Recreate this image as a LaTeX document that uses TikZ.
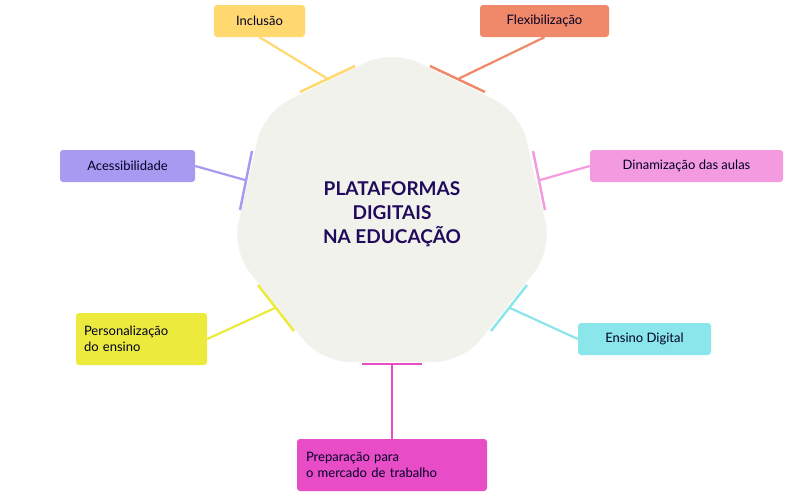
\documentclass[tikz,border=0pt]{standalone}
\usepackage{fontspec}
\setmainfont{Lato}
\begin{document}
\begin{tikzpicture}[x=1pt,y=-1pt,
  box/.style={rounded corners=3pt,inner sep=0pt,font=\fontsize{13}{16}\selectfont,text=black!85!blue},
  mk/.style={line width=2.5pt},
  cn/.style={line width=2.2pt}]
\useasboundingbox (0,0) rectangle (786,491);
\definecolor{cA}{HTML}{FFD970}\definecolor{cB}{HTML}{F0896A}
\definecolor{cC}{HTML}{A89AF0}\definecolor{cD}{HTML}{F49BE0}
\definecolor{cE}{HTML}{ECEA3C}\definecolor{cF}{HTML}{8AE6EA}
\definecolor{cG}{HTML}{E84CC6}\definecolor{hep}{HTML}{F2F2EC}
\definecolor{ttl}{HTML}{1F0A5C}
\fill[hep,rounded corners=28pt] (392,50) -- (520,112) -- (552,250) -- (463,362) -- (321,362) -- (232,250) -- (264,112) -- cycle;
\node[text=ttl,font=\fontsize{19}{24}\selectfont\bfseries,align=center] (t) at (392,214) {PLATAFORMAS\\DIGITAIS\\NA EDUCAÇÃO};
% boxes
\node[box,fill=cA,minimum width=91,minimum height=32] (a) at (259.5,21) {Inclusão};
\node[box,fill=cB,minimum width=129,minimum height=32] (b) at (544.5,21) {Flexibilização};
\node[box,fill=cC,minimum width=135,minimum height=32] (c) at (127.5,166) {Acessibilidade};
\node[box,fill=cD,minimum width=193,minimum height=32] (d) at (686.5,166) {Dinamização das aulas};
\node[box,fill=cE,minimum width=131,minimum height=52,align=left,text width=115] (e) at (141.5,339) {Personalização\\do ensino};
\node[box,fill=cF,minimum width=133,minimum height=32] (f) at (644.5,339) {Ensino Digital};
\node[box,fill=cG,minimum width=190,minimum height=52,align=left,text width=172] (g) at (392,465) {Preparação para\\o mercado de trabalho};
% markers
\coordinate (ma) at (328,79); \coordinate (mb) at (458,79);
\coordinate (mc) at (245,180); \coordinate (md) at (540,180);
\coordinate (me) at (275,308); \coordinate (mf) at (510,308);
\coordinate (mg) at (392,364);
\draw[mk,cA] (300,92) -- (355,66); \draw[cn,cA] (ma) -- (a.south);
\draw[mk,cB] (430,66) -- (485,92); \draw[cn,cB] (mb) -- (b.south);
\draw[mk,cC] (252,151) -- (240,210); \draw[cn,cC] (mc) -- (c.east);
\draw[mk,cD] (533,151) -- (545,210); \draw[cn,cD] (md) -- (d.west);
\draw[mk,cE] (258,285) -- (294,331); \draw[cn,cE] (me) -- (e.east);
\draw[mk,cF] (527,285) -- (491,331); \draw[cn,cF] (mf) -- (f.west);
\draw[mk,cG] (362,364) -- (422,364); \draw[cn,cG] (mg) -- (g.north);
\end{tikzpicture}
\end{document}
